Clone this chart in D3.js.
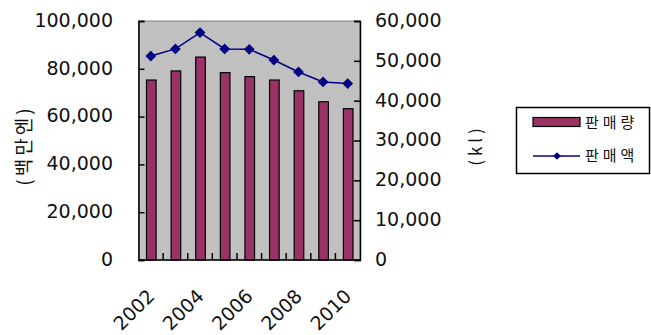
<!DOCTYPE html>
<html>
<head>
<meta charset="utf-8">
<script src="https://cdn.jsdelivr.net/npm/d3@7"></script>
<style>
  html, body { margin: 0; padding: 0; background: #fff; }
  svg { display: block; }
  .tick-label { font-family: "DejaVu Sans", sans-serif; font-size: 19px; fill: #111; }
  .kr { font-family: "Noto Sans CJK KR", sans-serif; fill: #111; }
</style>
</head>
<body>
<svg id="chart" width="651" height="335"></svg>
<script>
// Yearly sales: volume (left axis, 백만엔) and amount (right axis, kl)
const years = [2002, 2003, 2004, 2005, 2006, 2007, 2008, 2009, 2010];
const volume = [75300, 79100, 84900, 78400, 76700, 75300, 70800, 66200, 63300];
const amount = [51200, 53000, 57100, 53000, 52900, 50200, 47200, 44700, 44300];
const leftTicks = [0, 20000, 40000, 60000, 80000, 100000];
const rightTicks = [0, 10000, 20000, 30000, 40000, 50000, 60000];
const xLabels = [2002, 2004, 2006, 2008, 2010];
const seriesNames = ["판매량", "판매액"];

const svg = d3.select("#chart");
const plot = { left: 138.5, right: 360, top: 21, bottom: 260 };

const x = d3.scaleBand().domain(years).range([plot.left, plot.right]).padding(0);
const yL = d3.scaleLinear().domain([0, 100000]).range([plot.bottom, plot.top]);
const yR = d3.scaleLinear().domain([0, 60000]).range([plot.bottom, plot.top]);
const fmt = d3.format(",");

// plot area background
svg.append("rect")
  .attr("x", plot.left).attr("y", plot.top)
  .attr("width", plot.right - plot.left).attr("height", plot.bottom - plot.top)
  .attr("fill", "#c0c0c0").attr("stroke", "#808080").attr("stroke-width", 1);

// bars
const barW = x.bandwidth() * 0.39;
svg.append("g").selectAll("rect").data(years).join("rect")
  .attr("x", (d) => x(d) + (x.bandwidth() - barW) / 2 + 0.5)
  .attr("y", (d, i) => yL(volume[i]))
  .attr("width", barW)
  .attr("height", (d, i) => plot.bottom - yL(volume[i]))
  .attr("fill", "#993366").attr("stroke", "#000").attr("stroke-width", 1.2);

// left axis: inner ticks, labels outside
const gL = svg.append("g").attr("transform", `translate(${plot.left},0)`)
  .call(d3.axisRight(yL).tickValues(leftTicks).tickSize(6).tickFormat(""));
gL.select(".domain").attr("stroke", "#000").attr("stroke-width", 1.5);
gL.selectAll(".tick line").attr("stroke", "#000").attr("stroke-width", 1.5);
svg.append("g").selectAll("text").data(leftTicks).join("text")
  .attr("class", "tick-label")
  .attr("x", 113).attr("y", (d) => yL(d) - 1)
  .attr("dy", "0.36em").attr("text-anchor", "end")
  .text((d) => fmt(d));

// right axis
const gR = svg.append("g").attr("transform", `translate(${plot.right},0)`)
  .call(d3.axisLeft(yR).tickValues(rightTicks).tickSize(6).tickFormat(""));
gR.select(".domain").attr("stroke", "#000").attr("stroke-width", 1.5);
gR.selectAll(".tick line").attr("stroke", "#000").attr("stroke-width", 1.5);
svg.append("g").selectAll("text").data(rightTicks).join("text")
  .attr("class", "tick-label")
  .attr("x", 375).attr("y", (d) => yR(d) - 1)
  .attr("dy", "0.36em").attr("text-anchor", "start")
  .text((d) => fmt(d));

// bottom axis with ticks between categories
const boundaries = years.slice(1).map((d) => x(d));
svg.append("line")
  .attr("x1", plot.left).attr("x2", plot.right)
  .attr("y1", plot.bottom).attr("y2", plot.bottom)
  .attr("stroke", "#000").attr("stroke-width", 1.5);
svg.append("g").selectAll("line").data(boundaries).join("line")
  .attr("x1", (d) => d).attr("x2", (d) => d)
  .attr("y1", plot.bottom).attr("y2", plot.bottom - 7)
  .attr("stroke", "#000").attr("stroke-width", 1.5);

svg.append("g").selectAll("text").data(xLabels).join("text")
  .attr("class", "tick-label")
  .attr("text-anchor", "end")
  .attr("transform", (d) => `translate(${x(d) + x.bandwidth() / 2 - 4.5},${plot.bottom + 28}) rotate(-45)`)
  .attr("dy", "0.7em")
  .text((d) => d);

// line series
const line = d3.line()
  .x((d, i) => x(years[i]) + x.bandwidth() / 2)
  .y((d) => yR(d));
svg.append("path").datum(amount)
  .attr("d", line).attr("fill", "none")
  .attr("stroke", "#000080").attr("stroke-width", 1.5);
const diamond = d3.symbol().type(d3.symbolSquare).size(58);
svg.append("g").selectAll("path").data(amount).join("path")
  .attr("d", diamond)
  .attr("transform", (d, i) => `translate(${x(years[i]) + x.bandwidth() / 2},${yR(d)}) rotate(45)`)
  .attr("fill", "#000080");

// axis titles
svg.append("text").attr("class", "kr")
  .attr("transform", `translate(31,${(plot.top + plot.bottom) / 2 + 5}) rotate(-90)`)
  .attr("text-anchor", "middle").attr("font-size", 19)
  .attr("letter-spacing", 3)
  .text("(백만엔)");
svg.append("text").attr("class", "kr")
  .attr("transform", `translate(482,145) rotate(-90)`)
  .attr("text-anchor", "middle").attr("font-size", 17)
  .attr("letter-spacing", 4)
  .text("(kl)");

// legend
const lg = svg.append("g");
lg.append("rect")
  .attr("x", 516.5).attr("y", 107.5).attr("width", 133).attr("height", 66)
  .attr("fill", "#fff").attr("stroke", "#000").attr("stroke-width", 1.5);
lg.append("rect")
  .attr("x", 533).attr("y", 117.5).attr("width", 47).attr("height", 9)
  .attr("fill", "#993366").attr("stroke", "#000").attr("stroke-width", 1.2);
lg.append("line")
  .attr("x1", 533).attr("x2", 580).attr("y1", 156).attr("y2", 156)
  .attr("stroke", "#000080").attr("stroke-width", 1.5);
lg.append("path")
  .attr("d", d3.symbol().type(d3.symbolSquare).size(30)())
  .attr("transform", "translate(557,156) rotate(45)")
  .attr("fill", "#000080");
lg.selectAll("text.legend").data(seriesNames).join("text")
  .attr("class", "kr legend")
  .attr("x", 585).attr("y", (d, i) => (i === 0 ? 123 : 156))
  .attr("dy", "0.35em").attr("font-size", 15).attr("letter-spacing", 4)
  .text((d) => d);
</script>
</body>
</html>
